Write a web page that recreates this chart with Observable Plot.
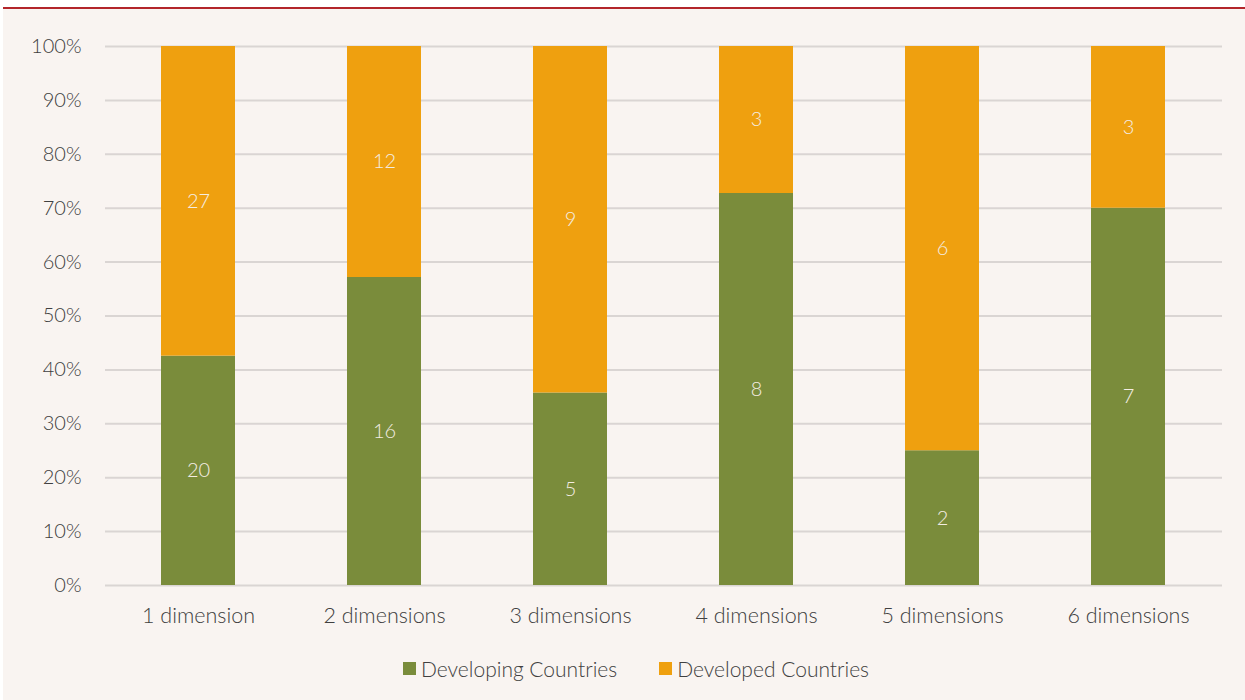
<!DOCTYPE html>
<html>
<head>
<meta charset="utf-8">
<script src="https://cdn.jsdelivr.net/npm/d3@7"></script>
<script src="https://cdn.jsdelivr.net/npm/@observablehq/plot@0.6"></script>
<style>
  body { margin: 0; background: #ffffff; font-family: Lato, "Open Sans", sans-serif; }
  #frame { margin-top: 7px; margin-left: 3px; width: 1242px; height: 691px; border-top: 2px solid #b3262b; background: #f9f4f1; position: relative; }
  #legend { position: absolute; top: 645px; left: 24px; width: 1218px; text-align: center; font-size: 21px; color: #404040; font-weight: 300; }
  .item { display: inline-flex; align-items: center; margin: 0 21px; }
  .sw { width: 13px; height: 13px; display: inline-block; margin-right: 5px; }
</style>
</head>
<body>
<div id="frame"><div id="chart"></div><div id="legend"></div></div>
<script>
const categories = ["1 dimension", "2 dimensions", "3 dimensions", "4 dimensions", "5 dimensions", "6 dimensions"];
const series = ["Developing Countries", "Developed Countries"];
const developing = [20, 16, 5, 8, 2, 7];
const developed = [27, 12, 9, 3, 6, 3];
const colors = ["#7a8c3b", "#efa00f"];
const yTicks = [0, 0.1, 0.2, 0.3, 0.4, 0.5, 0.6, 0.7, 0.8, 0.9, 1];

const data = [];
categories.forEach((c, i) => {
  data.push({category: c, series: series[0], value: developing[i]});
  data.push({category: c, series: series[1], value: developed[i]});
});

const stackOpts = {x: "category", y: "value", z: "series", offset: "normalize", order: series};

const chart = Plot.plot({
  width: 1242,
  height: 630,
  marginLeft: 102,
  marginRight: 23,
  marginTop: 37,
  marginBottom: 54,
  style: {background: "transparent", fontFamily: "Lato, 'Open Sans', sans-serif", fontSize: "20px", color: "#404040"},
  x: {domain: categories, paddingInner: 0.6, paddingOuter: 0.3, label: null, tickSize: 0, tickPadding: 22},
  y: {domain: [0, 1], ticks: yTicks, tickFormat: d => Math.round(d * 100) + "%", label: null, tickSize: 0, tickPadding: 24},
  color: {domain: series, range: colors},
  marks: [
    Plot.ruleY(yTicks, {stroke: "#dad5d3", strokeWidth: 2}),
    Plot.barY(data, {...stackOpts, fill: "series"}),
    Plot.axisX({tickSize: 0, tickPadding: 22, fontSize: 21.5, label: null}),
    Plot.text(data, Plot.stackY({...stackOpts, text: d => String(d.value), fill: "#f4ede2", fontSize: 20, fontWeight: 300}))
  ]
});
chart.querySelectorAll("g[aria-label='x-axis tick label'] text, g[aria-label='y-axis tick label'] text").forEach(t => t.setAttribute("font-weight", "300"));
document.getElementById("chart").appendChild(chart);

const legend = document.getElementById("legend");
series.forEach((s, i) => {
  const it = document.createElement("span");
  it.className = "item";
  const sw = document.createElement("span");
  sw.className = "sw";
  sw.style.background = colors[i];
  it.appendChild(sw);
  it.appendChild(document.createTextNode(s));
  legend.appendChild(it);
});
</script>
</body>
</html>
